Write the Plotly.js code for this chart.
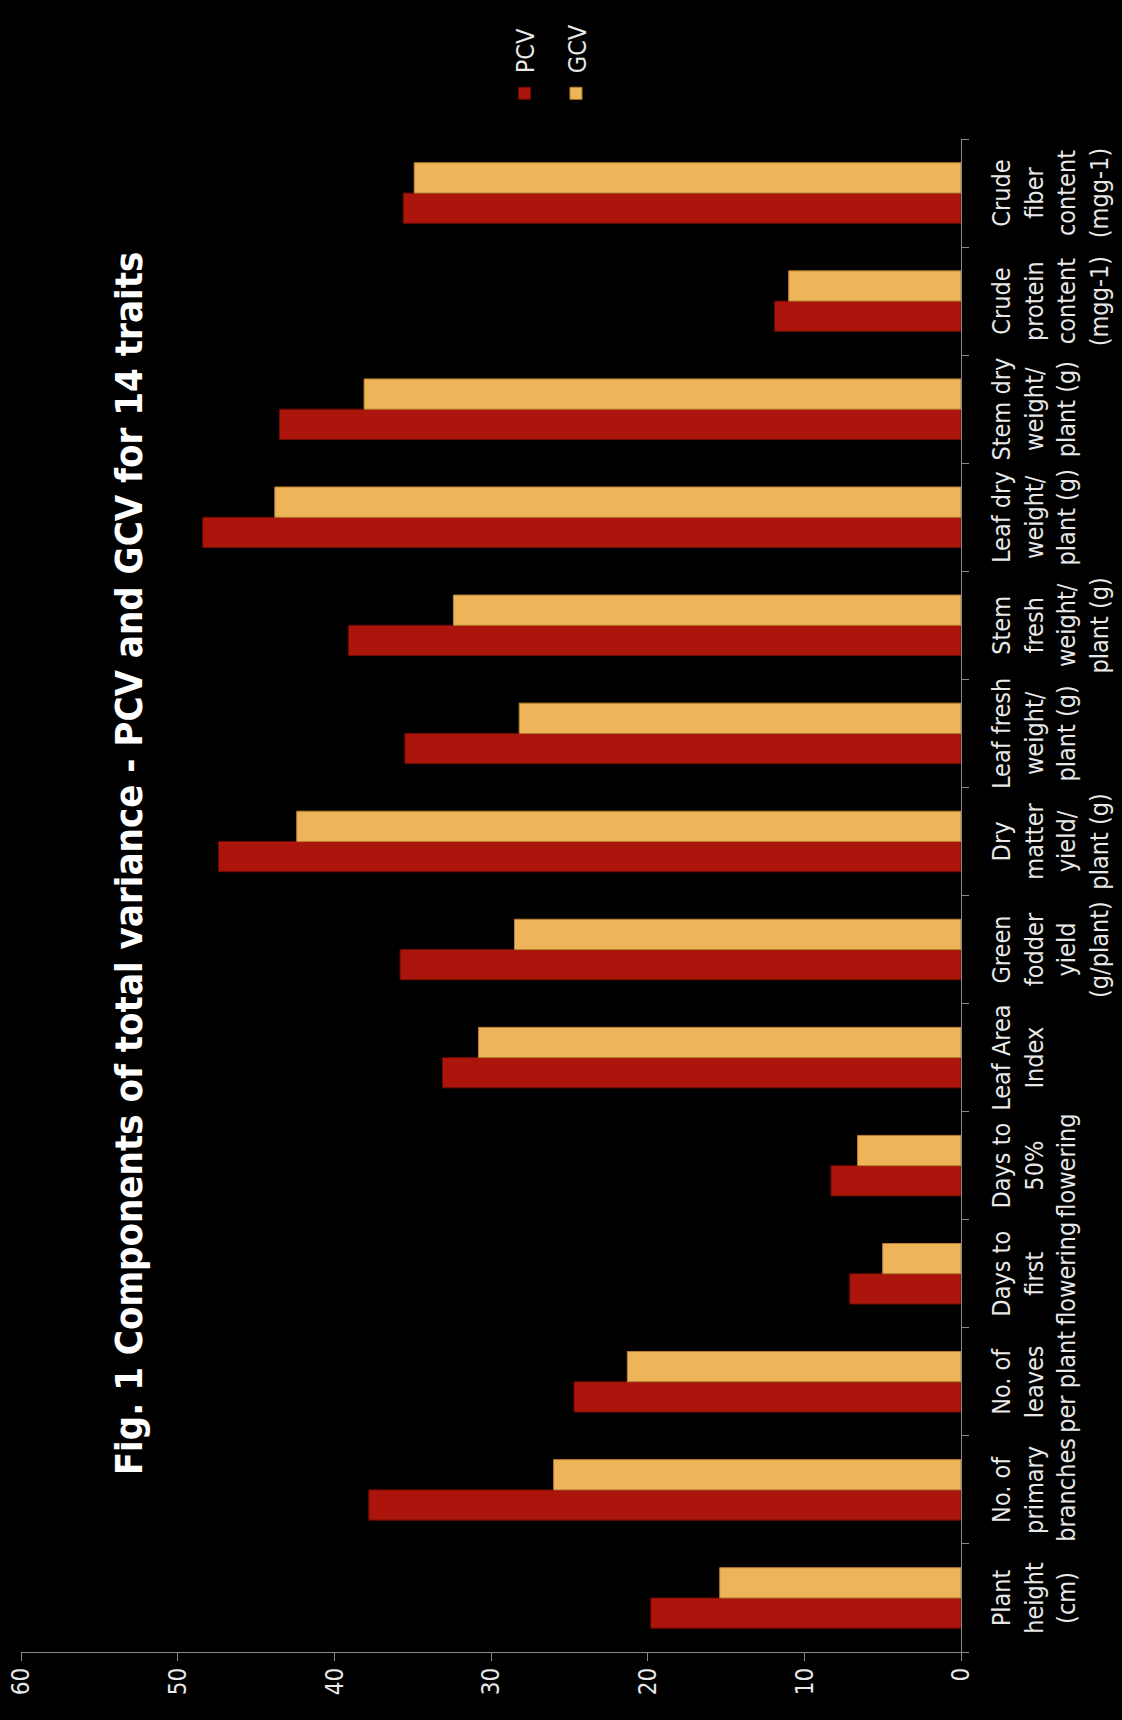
<!DOCTYPE html>
<html><head><meta charset="utf-8">
<script src="https://cdn.plot.ly/plotly-3.0.1.min.js"></script>
<style>
html,body{margin:0;padding:0;background:#000;width:1122px;height:1720px;overflow:hidden;}
#wrap{position:absolute;left:0;top:0;width:1720px;height:1122px;transform-origin:0 0;transform:translate(0px,1720px) rotate(-90deg);}
</style></head><body>
<div id="wrap"><div id="chart" style="width:1720px;height:1122px"></div></div>
<script>
const traits = [
  "Plant<br>height<br>(cm)",
  "No. of<br>primary<br>branches",
  "No. of<br>leaves<br>per plant",
  "Days to<br>first<br>flowering",
  "Days to<br>50%<br>flowering",
  "Leaf Area<br>Index",
  "Green<br>fodder<br>yield<br>(g/plant)",
  "Dry<br>matter<br>yield/<br>plant (g)",
  "Leaf fresh<br>weight/<br>plant (g)",
  "Stem<br>fresh<br>weight/<br>plant (g)",
  "Leaf dry<br>weight/<br>plant (g)",
  "Stem dry<br>weight/<br>plant (g)",
  "Crude<br>protein<br>content<br>(mgg-1)",
  "Crude<br>fiber<br>content<br>(mgg-1)"
];
const pcv = [19.8, 37.8, 24.7, 7.1, 8.3, 33.1, 35.8, 47.4, 35.5, 39.1, 48.4, 43.5, 11.9, 35.6];
const gcv = [15.4, 26.0, 21.3, 5.0, 6.6, 30.8, 28.5, 42.4, 28.2, 32.4, 43.8, 38.1, 11.0, 34.9];
const seriesNames = ["PCV", "GCV"];
const valueTicks = [0, 10, 20, 30, 40, 50, 60];
const chartTitle = "Fig. 1 Components of total variance - PCV and GCV for 14 traits";

const FONT = "DejaVu Sans Condensed, Liberation Sans Narrow, sans-serif";
const traces = [
  {type: "bar", name: seriesNames[0], x: traits, y: pcv, legendgroup: "a",
   marker: {color: "#ab150b", line: {color: "#6e0a04", width: 1}}},
  {type: "bar", name: seriesNames[1], x: traits, y: gcv, legendgroup: "b",
   marker: {color: "#edb45a", line: {color: "#b9802e", width: 1}}}
];
const layout = {
  width: 1720, height: 1122,
  paper_bgcolor: "#000", plot_bgcolor: "#000",
  margin: {l: 68, r: 139, t: 21, b: 161, pad: 0},
  font: {family: FONT, color: "#e8e8e8", size: 24},
  title: {text: "<b>" + chartTitle + "</b>", x: 0.498, xref: "container", xanchor: "center",
          y: 0.885, yref: "container", yanchor: "middle",
          font: {family: FONT, size: 38, color: "#ffffff"}},
  barmode: "group", bargap: 0.44, bargroupgap: 0,
  showlegend: true,
  legend: {x: 1.017, xanchor: "left", y: 0.437, yanchor: "middle", font: {size: 25, color: "#e8e8e8"},
           bgcolor: "rgba(0,0,0,0)", tracegroupgap: 16, traceorder: "grouped", itemwidth: 30},
  xaxis: {type: "category", tickson: "boundaries", ticks: "outside", ticklen: 7, tickcolor: "#8a8a8a",
          showline: true, linecolor: "#8a8a8a", linewidth: 1, showgrid: false, tickangle: 0,
          tickfont: {size: 25, color: "#e8e8e8"}, ticklabelstandoff: 18},
  yaxis: {range: [0, 60], tickvals: valueTicks, ticks: "outside", ticklen: 8, tickcolor: "#8a8a8a",
          showline: true, linecolor: "#8a8a8a", linewidth: 1, showgrid: false, zeroline: false,
          tickfont: {size: 24, color: "#e8e8e8"}, ticklabelstandoff: 2}
};
Plotly.newPlot("chart", traces, layout, {displayModeBar: false, staticPlot: true});
</script>
</body></html>
